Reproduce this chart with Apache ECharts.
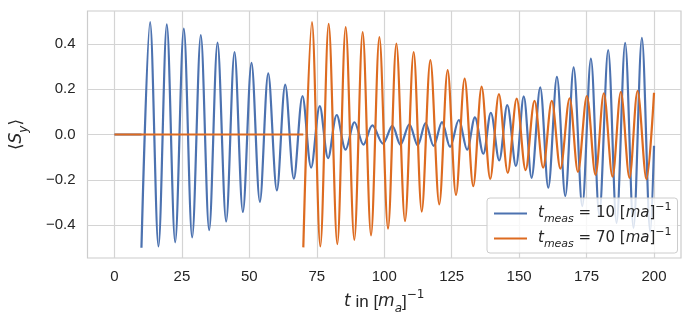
<!DOCTYPE html>
<html>
<head>
<meta charset="utf-8">
<script src="https://cdn.jsdelivr.net/npm/echarts@6/dist/echarts.min.js"></script>
<style>
  html, body { margin: 0; padding: 0; background: #fff; }
  #main { width: 694px; height: 328px; }
</style>
</head>
<body>
<div id="main"></div>
<script>
// x ticks and y ticks
var xTicks = [0, 25, 50, 75, 100, 125, 150, 175, 200];
var yTicks = [-0.4, -0.2, 0, 0.2, 0.4];

// t_meas = 10 : extrema (t, <S_y>)
var blueT = [10, 13.2, 16.3, 19.4, 22.5, 25.7, 28.8, 32.0, 35.1, 38.2, 41.4, 44.5, 47.6, 50.8, 53.9,
  57.0, 60.2, 63.3, 66.5, 69.7, 72.9, 76.1, 79.2, 82.4, 85.7, 89.0, 92.3, 95.6, 99.5, 103.0,
  106.0, 109.3, 112.4, 115.3, 118.3, 121.4, 124.4, 127.6, 130.7, 133.6, 136.7, 139.5, 142.6, 145.6,
  148.8, 151.7, 154.6, 157.8, 160.8, 164.0, 167.1, 170.2, 173.4, 176.6, 179.7, 183.0, 186.1,
  189.3, 192.4, 195.5, 198.6, 200];
var blueV = [-0.5, 0.496, -0.494, 0.486, -0.476, 0.467, -0.454, 0.439, -0.422, 0.405, -0.384, 0.364, -0.342, 0.316, -0.297,
  0.270, -0.247, 0.220, -0.195, 0.170, -0.146, 0.125, -0.104, 0.086, -0.067, 0.054, -0.045, 0.040, -0.040, 0.038,
  -0.045, 0.045, -0.048, 0.050, -0.050, 0.055, -0.055, 0.064, -0.067, 0.076, -0.085, 0.096, -0.114, 0.130,
  -0.139, 0.168, -0.191, 0.208, -0.235, 0.254, -0.272, 0.296, -0.316, 0.335, -0.355, 0.373, -0.390,
  0.404, -0.412, 0.427, -0.430, -0.05];

// t_meas = 70 : flat before the measurement, then extrema
var orangeFlatT = [0, 70];
var orangeFlatV = [0, 0];
var orangeT = [70, 73.2, 76.3, 79.4, 82.6, 85.7, 88.9, 92.0, 95.1, 98.2, 101.4, 104.5, 107.7, 110.9, 113.9,
  117.1, 120.4, 123.5, 126.6, 129.8, 133.0, 136.1, 139.3, 142.5, 145.8, 149.1, 152.4, 155.7, 158.9,
  162.1, 165.3, 168.7, 171.8, 175.1, 178.3, 181.4, 184.6, 187.7, 190.9, 193.9, 197.2, 200];
var orangeV = [-0.498, 0.496, -0.494, 0.488, -0.484, 0.474, -0.465, 0.452, -0.445, 0.430, -0.415, 0.401, -0.382, 0.364, -0.340,
  0.328, -0.308, 0.284, -0.267, 0.247, -0.228, 0.211, -0.196, 0.178, -0.169, 0.158, -0.157, 0.149, -0.146,
  0.149, -0.151, 0.160, -0.165, 0.170, -0.178, 0.182, -0.186, 0.188, -0.191, 0.193, -0.198, 0.184];

function pairs(ts, vs) {
  var out = [];
  for (var i = 0; i < ts.length; i++) out.push([ts[i], vs[i]]);
  return out;
}

var blueData = pairs([0, 10], [0, 0]).concat([[10, null]], pairs(blueT, blueV));
var orangeData = pairs(orangeFlatT, orangeFlatV).concat([[70, null]], pairs(orangeT, orangeV));

var txt = '#262626';
var gridCol = '#d4d4d4';

function mathStyle(size) {
  var small = Math.round(size * 0.72);
  var lh = Math.round(size * 1.5);
  return {
    n: { fontFamily: 'DejaVu Sans', fontSize: size, color: txt, lineHeight: lh, verticalAlign: 'middle' },
    it: { fontFamily: 'DejaVu Sans', fontStyle: 'italic', fontSize: size, color: txt, lineHeight: lh, verticalAlign: 'middle' },
    sub: { fontFamily: 'DejaVu Sans', fontStyle: 'italic', fontSize: small, color: txt, lineHeight: lh, verticalAlign: 'bottom' },
    sup: { fontFamily: 'DejaVu Sans', fontSize: small, color: txt, lineHeight: lh, verticalAlign: 'top' },
    sans: { fontFamily: 'Liberation Sans', fontSize: size, color: txt, lineHeight: lh, verticalAlign: 'middle' }
  };
}

var chart = echarts.init(document.getElementById('main'));
chart.setOption({
  animation: false,
  backgroundColor: '#fff',
  grid: { left: 86, right: 13, top: 11, bottom: 70, show: true, borderColor: '#cccccc', borderWidth: 1.2 },
  xAxis: {
    type: 'value', min: -10, max: 210,
    name: '{it|t}{sans| in [}{it|m}{sub|a}{sans|]}{sup|−1}',
    nameLocation: 'middle', nameGap: 30,
    nameTextStyle: { rich: mathStyle(17) },
    axisLine: { show: false },
    axisTick: { show: false, customValues: xTicks },
    axisLabel: { customValues: xTicks, color: txt, fontFamily: 'Liberation Sans', fontSize: 15, margin: 11 },
    splitLine: { show: true, lineStyle: { color: gridCol, width: 1.2 } }
  },
  yAxis: {
    type: 'value', min: -0.545, max: 0.545,
    name: '{n|⟨}{it|S}{sub|y}{n|⟩}',
    nameLocation: 'middle', nameGap: 58, nameRotate: 90,
    nameTextStyle: { rich: mathStyle(17) },
    axisLine: { show: false },
    axisTick: { show: false, customValues: yTicks },
    axisLabel: {
      customValues: yTicks, color: txt, fontFamily: 'Liberation Sans', fontSize: 15, margin: 12,
      formatter: function (v) { return v.toFixed(1).replace('-', '\u2212'); }
    },
    splitLine: { show: true, lineStyle: { color: gridCol, width: 1.2 } }
  },
  legend: {
    orient: 'vertical', left: 487, top: 198,
    padding: [4, 6, 3, 7], itemGap: 2,
    itemWidth: 33, itemHeight: 2.2, icon: 'rect',
    backgroundColor: 'rgba(255,255,255,0.8)',
    borderColor: '#cccccc', borderWidth: 1, borderRadius: 3,
    data: ['b', 'o'],
    formatter: function (name) {
      var num = name === 'b' ? '10' : '70';
      return '{it|t}{sub|meas}{n| = ' + num + ' [}{it|ma}{n|]}{sup|−1}';
    },
    textStyle: { rich: mathStyle(15), padding: [0, 0, 0, 6] }
  },
  series: [
    {
      name: 'b', type: 'line', data: blueData, smooth: 0.33, showSymbol: false, symbol: 'none',
      color: '#4c72b0', lineStyle: { width: 2.2, color: '#4c72b0' }, z: 2
    },
    {
      name: 'o', type: 'line', data: orangeData, smooth: 0.33, showSymbol: false, symbol: 'none',
      color: '#dd6b20', lineStyle: { width: 2.2, color: '#dd6b20' }, z: 3
    }
  ]
});
</script>
</body>
</html>
